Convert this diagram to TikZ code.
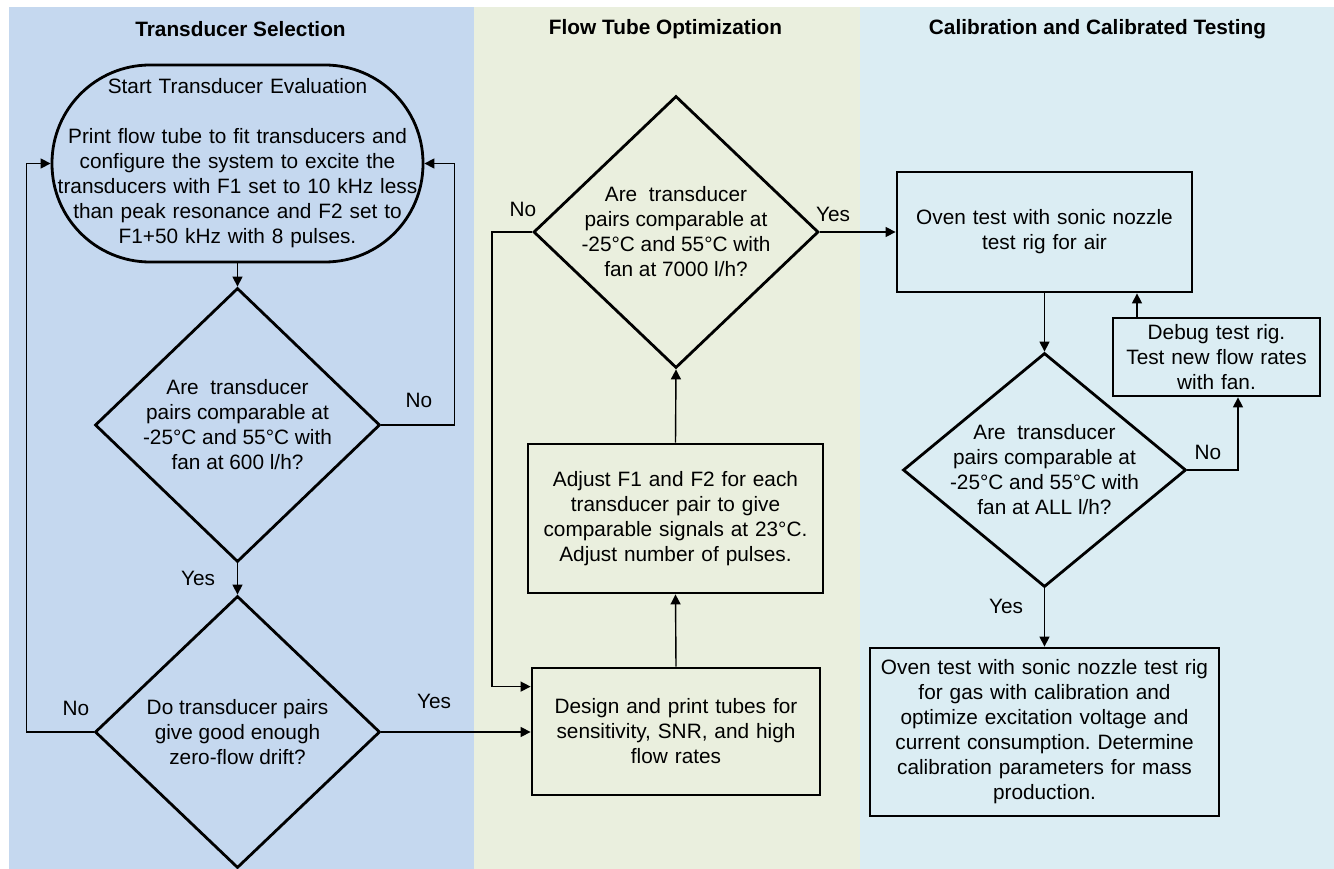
\documentclass[tikz,border=0pt]{standalone}
\usepackage{fontspec}
\setmainfont{Liberation Sans}
\usetikzlibrary{shapes.geometric,arrows.meta}
\definecolor{pA}{RGB}{197,216,239}
\definecolor{pB}{RGB}{234,239,222}
\definecolor{pC}{RGB}{219,237,243}
\newcommand{\fsz}{\fontsize{20.8pt}{25pt}\selectfont\frenchspacing}
\begin{document}
\begin{tikzpicture}[x=1pt,y=-1pt,
 box/.style={draw, line width=2.8pt, rectangle, inner sep=0pt, align=center, font=\fsz},
 dec/.style={draw, line width=2.8pt, diamond, inner xsep=-40pt, inner ysep=-30pt, align=center, font=\fsz},
 conn/.style={line width=1.4pt, -{Triangle[length=10pt,width=10pt]}},
 lbl/.style={font=\fsz, inner sep=0pt},
 ttl/.style={font=\fsz\bfseries, inner sep=0pt}]
\useasboundingbox (0,0) rectangle (1334,869);
\fill[pA] (9,7) rectangle (474,869);
\fill[pB] (474,7) rectangle (860,869);
\fill[pC] (860,7) rectangle (1334,869);

\node[ttl] (t1) at (240.5,29) {Transducer Selection};
\node[ttl] (t2) at (665.5,29) {Flow Tube Optimization};
\node[ttl] (t3) at (1097.5,29) {Calibration and Calibrated Testing};

\node[box, rounded corners=98pt, minimum width=371pt, minimum height=197pt, text width=362pt] (start) at (237.5,163.5)
 {Start Transducer Evaluation\\[25pt] Print flow tube to fit transducers and\\ configure the system to excite the\\ transducers with F1 set to 10 kHz less\\ than peak resonance and F2 set to\\ F1+50 kHz with 8 pulses.};

\node[dec, minimum width=285pt, minimum height=274pt] (d1) at (237.5,425)
 {Are\ \ transducer\\ pairs comparable at\\ -25°C and 55°C with\\ fan at 600 l/h?};
\node[dec, minimum width=285pt, minimum height=272pt] (d2) at (237.5,732)
 {Do transducer pairs\\ give good enough\\ zero-flow drift?};

\node[box, minimum width=288pt, minimum height=127pt, text width=280pt] (design) at (676,731.5)
 {Design and print tubes for\\ sensitivity, SNR, and high\\ flow rates};
\node[box, minimum width=295pt, minimum height=149pt, text width=285pt] (adjust) at (675.5,518.5)
 {Adjust F1 and F2 for each\\ transducer pair to give\\ comparable signals at 23°C.\\ Adjust number of pulses.};
\node[dec, minimum width=285pt, minimum height=272pt] (d3) at (676,232)
 {Are\ \ transducer\\ pairs comparable at\\ -25°C and 55°C with\\ fan at 7000 l/h?};

\node[box, minimum width=295pt, minimum height=120pt, text width=285pt] (oven) at (1044.5,232)
 {Oven test with sonic nozzle\\ test rig for air};
\node[box, minimum width=207pt, minimum height=78pt, text width=200pt] (debug) at (1216.5,357)
 {Debug test rig.\\ Test new flow rates\\ with fan.};
\node[dec, minimum width=283pt, minimum height=234pt] (d4) at (1044.5,470)
 {Are\ \ transducer\\ pairs comparable at\\ -25°C and 55°C with\\ fan at ALL l/h?};
\node[box, minimum width=349pt, minimum height=168pt, text width=340pt] (final) at (1044.5,732)
 {Oven test with sonic nozzle test rig\\ for gas with calibration and\\ optimize excitation voltage and\\ current consumption. Determine\\ calibration parameters for mass\\ production.};

\draw[conn] (start.south) -- (d1.north);
\draw[conn] (d1.south) -- (d2.north);
\draw[conn] (d1.east) -- ++(73,0) |- (start.east);
\draw[conn] (d2.west) -- ++(-67,0) |- (start.west);
\draw[conn] (d2.east) -- (d2.east -| design.west);
\draw[conn] (d3.west) -- ++(-40,0) |- ([yshift=-20pt]design.north west);
\draw[conn] (design.north) -- (adjust.south);
\draw[conn] (adjust.north) -- (d3.south);
\draw[conn] (d3.east) -- (d3.east -| oven.west);
\draw[conn] (oven.south) -- (d4.north);
\coordinate (dbt) at ([xshift=-79.5pt]debug.north);
\draw[conn] (dbt) -- (dbt |- oven.south);
\coordinate (dbb) at ([xshift=21.5pt]debug.south);
\draw[conn] (d4.east) -| (dbb);
\draw[conn] (d4.south) -- (final.north);

\node[lbl] (n1) at (419,400) {No};
\node[lbl] (y1) at (198,578) {Yes};
\node[lbl] (n2) at (76,708) {No};
\node[lbl] (y2) at (434,701) {Yes};
\node[lbl] (n3) at (523,209) {No};
\node[lbl] (y3) at (833,214) {Yes};
\node[lbl] (n4) at (1208,452) {No};
\node[lbl] (y4) at (1006,606) {Yes};
\end{tikzpicture}
\end{document}
